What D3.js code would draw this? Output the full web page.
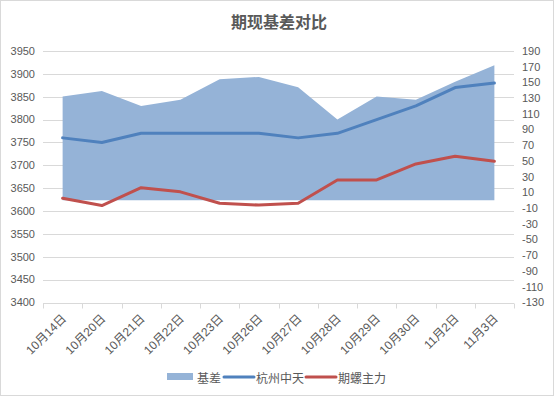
<!DOCTYPE html>
<html><head><meta charset="utf-8">
<script src="https://cdn.jsdelivr.net/npm/d3@7"></script>
<style>body{margin:0;background:#fff}</style>
</head><body>
<script>
const categories = ["10月14日","10月20日","10月21日","10月22日","10月23日","10月26日","10月27日","10月28日","10月29日","10月30日","11月2日","11月3日"];
const basis = [132,139,120,128,154,157,144,103,132,128,151,172];
const spot = [3760,3750,3770,3770,3770,3770,3760,3770,3800,3830,3870,3880];
const futures = [3628,3612,3651,3642,3617,3613,3617,3668,3668,3703,3720,3709];
const leftTicks = d3.range(3400, 3951, 50);
const rightTicks = d3.range(-130, 191, 20);
const seriesNames = ["基差","杭州中天","期螺主力"];

const W = 556, H = 398;
const font = "'Liberation Sans','Noto Sans CJK SC',sans-serif";
const cjk = "'Noto Sans CJK SC',sans-serif";
const svg = d3.select("body").append("svg").attr("width", W).attr("height", H);
svg.append("rect").attr("x",0.5).attr("y",0.5).attr("width",553).attr("height",395)
  .attr("fill","#fff").attr("stroke","#d9d9d9");

const x0 = 43, x1 = 514, yTop = 51, yBot = 302.5;
const x = d3.scaleBand().domain(categories).range([x0, x1]);
const cx = d => x(d) + x.bandwidth()/2;
const yL = d3.scaleLinear().domain([3400, 3950]).range([yBot, yTop]);
const yR = d3.scaleLinear().domain([-130, 190]).range([yBot, yTop]);

// gridlines
svg.append("g").selectAll("line").data(leftTicks.filter(t=>t>3400)).join("line")
  .attr("x1", x0).attr("x2", x1).attr("y1", d=>Math.round(yL(d))+0.5).attr("y2", d=>Math.round(yL(d))+0.5)
  .attr("stroke","#d9d9d9");

// area
const area = d3.area().x((d,i)=>cx(categories[i])).y0(yR(0)).y1(d=>yR(d));
svg.append("path").datum(basis).attr("d", area).attr("fill","#95b3d7");

// lines
const lineL = d3.line().x((d,i)=>cx(categories[i])).y(d=>yL(d));
svg.append("path").datum(spot).attr("d", lineL).attr("fill","none").attr("stroke","#4f81bd").attr("stroke-width",3).attr("stroke-linejoin","round").attr("stroke-linecap","round");
svg.append("path").datum(futures).attr("d", lineL).attr("fill","none").attr("stroke","#c0504d").attr("stroke-width",3).attr("stroke-linejoin","round").attr("stroke-linecap","round");

// x axis
const xa = svg.append("g").attr("transform", `translate(0,${Math.round(yBot)+0.5})`);
xa.append("line").attr("x1", x0).attr("x2", x1).attr("stroke","#d9d9d9");
const bounds = categories.map(c=>x(c)).concat([x1]);
xa.selectAll("line.tk").data(bounds).join("line").attr("class","tk")
  .attr("x1", d=>Math.round(d)+0.5).attr("x2", d=>Math.round(d)+0.5).attr("y1",0).attr("y2",5).attr("stroke","#d9d9d9");
svg.append("g").selectAll("text").data(categories).join("text")
  .attr("transform", d=>`translate(${cx(d)+1.5},${yBot+14}) rotate(-45)`)
  .attr("text-anchor","end").attr("dominant-baseline","central")
  .attr("font-family", font).attr("font-size",12).attr("fill","#595959").text(d=>d);

// left axis labels
svg.append("g").selectAll("text").data(leftTicks).join("text")
  .attr("x", 35).attr("y", d=>yL(d)).attr("dy","0.35em").attr("text-anchor","end")
  .attr("font-family", font).attr("font-size",11).attr("fill","#595959").text(d=>d);
// right axis labels
svg.append("g").selectAll("text").data(rightTicks).join("text")
  .attr("x", 522).attr("y", d=>yR(d)).attr("dy","0.35em").attr("text-anchor","start")
  .attr("font-family", font).attr("font-size",11).attr("fill","#595959").text(d=>d);

// title
svg.append("text").attr("x",279).attr("y",21).attr("text-anchor","middle").attr("dominant-baseline","central")
  .attr("font-family", cjk).attr("font-weight","bold").attr("font-size",16).attr("fill","#595959").text("期现基差对比");

// legend
const lg = svg.append("g");
const ly = 377;
const items = [
  {name: seriesNames[0], type:"rect", color:"#95b3d7", sx:167, tx:197},
  {name: seriesNames[1], type:"line", color:"#4f81bd", sx:224, tx:256},
  {name: seriesNames[2], type:"line", color:"#c0504d", sx:306, tx:338}
];
items.forEach(it=>{
  if (it.type==="rect") lg.append("rect").attr("x",it.sx).attr("y",ly-4).attr("width",26).attr("height",7).attr("fill",it.color);
  else lg.append("line").attr("x1",it.sx).attr("x2",it.sx+30).attr("y1",ly).attr("y2",ly).attr("stroke",it.color).attr("stroke-width",3).attr("stroke-linecap","round");
  lg.append("text").attr("x",it.tx).attr("y",ly).attr("dominant-baseline","central")
    .attr("font-family",cjk).attr("font-size",12).attr("fill","#595959").text(it.name);
});
</script>
</body></html>
